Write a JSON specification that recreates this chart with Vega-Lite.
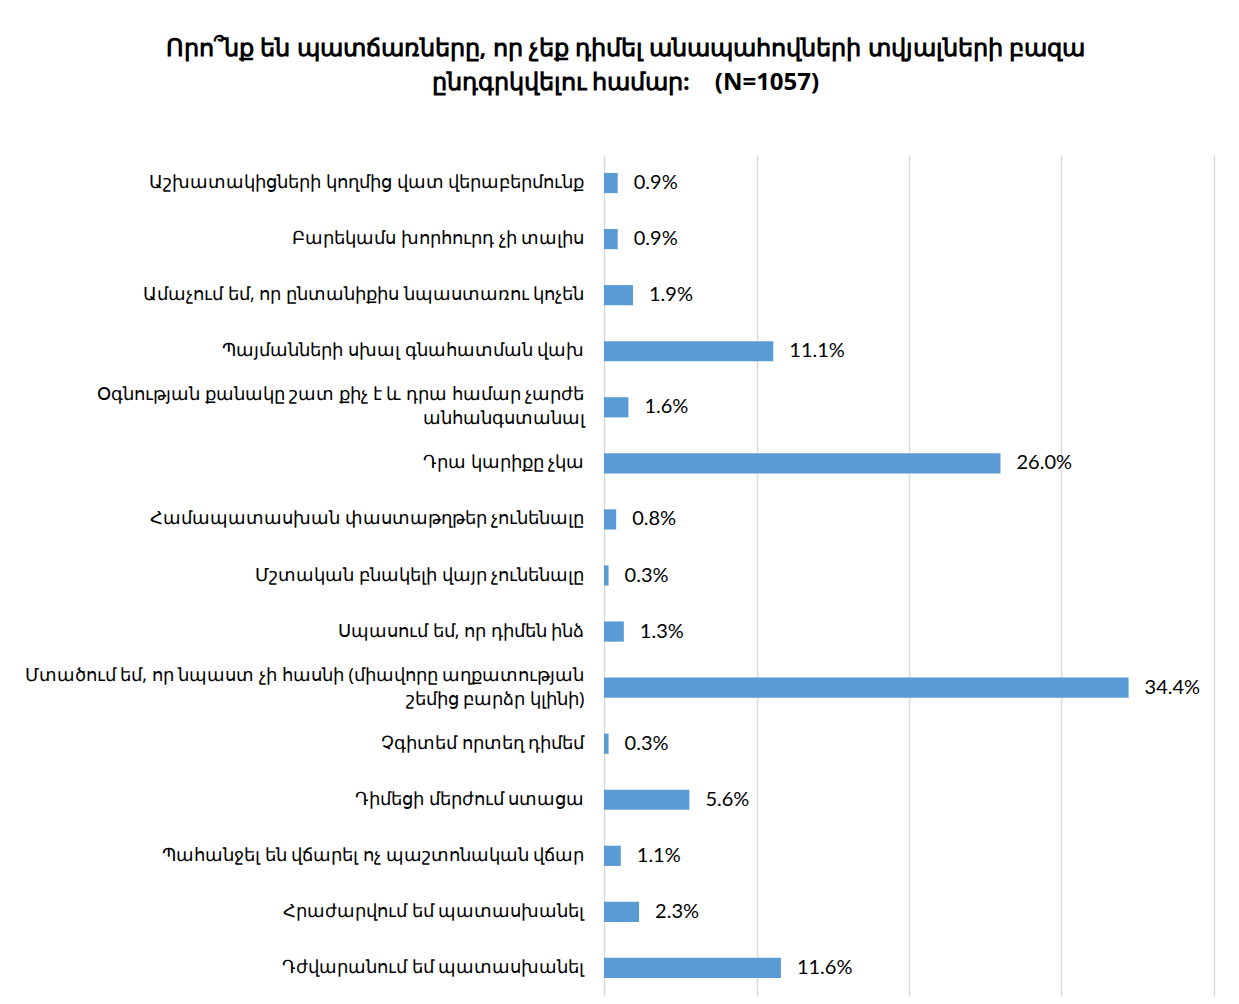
{
  "$schema": "https://vega.github.io/schema/vega-lite/v6.json",
  "width": 610,
  "height": 841,
  "padding": {"left": 5, "top": 37, "right": 20, "bottom": 7},
  "background": "white",
  "title": {
    "text": ["Որո՞նք են պատճառները, որ չեք դիմել անապահովների տվյալների բազա", "ընդգրկվելու համար:\u00a0\u00a0\u00a0 (N=1057)"],
    "fontSize": 24,
    "fontWeight": "bold",
    "font": "Noto Sans",
    "color": "#000000",
    "anchor": "middle",
    "frame": "bounds",
    "lineHeight": 34,
    "offset": 60,
    "dx": 16
  },
  "data": {
    "values": [
      {"reason": "Աշխատակիցների կողմից վատ վերաբերմունք", "share": 0.009},
      {"reason": "Բարեկամս խորհուրդ չի տալիս", "share": 0.009},
      {"reason": "Ամաչում եմ, որ ընտանիքիս նպաստառու կոչեն", "share": 0.019},
      {"reason": "Պայմանների սխալ գնահատման վախ", "share": 0.111},
      {"reason": "Օգնության քանակը շատ քիչ է և դրա համար չարժե\nանհանգստանալ", "share": 0.016},
      {"reason": "Դրա կարիքը չկա", "share": 0.260},
      {"reason": "Համապատասխան փաստաթղթեր չունենալը", "share": 0.008},
      {"reason": "Մշտական բնակելի վայր չունենալը", "share": 0.003},
      {"reason": "Սպասում եմ, որ դիմեն ինձ", "share": 0.013},
      {"reason": "Մտածում եմ, որ նպաստ չի հասնի (միավորը աղքատության\nշեմից բարձր կլինի)", "share": 0.344},
      {"reason": "Չգիտեմ որտեղ դիմեմ", "share": 0.003},
      {"reason": "Դիմեցի մերժում ստացա", "share": 0.056},
      {"reason": "Պահանջել են վճարել ոչ պաշտոնական վճար", "share": 0.011},
      {"reason": "Հրաժարվում եմ պատասխանել", "share": 0.023},
      {"reason": "Դժվարանում եմ պատասխանել", "share": 0.116}
    ]
  },
  "encoding": {
    "y": {
      "field": "reason",
      "type": "nominal",
      "sort": null,
      "title": null,
      "scale": {"paddingInner": 0.64, "paddingOuter": 0.32},
      "axis": {
        "domain": false,
        "ticks": false,
        "labelPadding": 20,
        "labelFont": "Noto Sans",
        "labelFontSize": 18,
        "labelColor": "#000000",
        "labelLimit": 700,
        "labelLineHeight": 24,
        "labelOffset": {"condition": {"test": "indexof(datum.value, '\\n') >= 0", "value": -12}, "value": 0},
        "minExtent": 599,
        "maxExtent": 599,
        "labelExpr": "split(datum.value, '\\n')"
      }
    },
    "x": {
      "field": "share",
      "type": "quantitative",
      "title": null,
      "scale": {"domain": [0, 0.4], "nice": false},
      "axis": {
        "values": [0, 0.1, 0.2, 0.3, 0.4],
        "grid": true,
        "gridColor": "#d9d9d9",
        "gridWidth": 1.5,
        "labels": false,
        "ticks": false,
        "domain": false
      }
    }
  },
  "layer": [
    {"mark": {"type": "bar", "color": "#5B9BD5"}},
    {
      "mark": {"type": "text", "align": "left", "baseline": "middle", "dx": 16, "fontSize": 20, "font": "Lato", "color": "#000000"},
      "encoding": {"text": {"field": "share", "type": "quantitative", "format": ".1%"}}
    }
  ],
  "config": {"view": {"stroke": null}}
}
